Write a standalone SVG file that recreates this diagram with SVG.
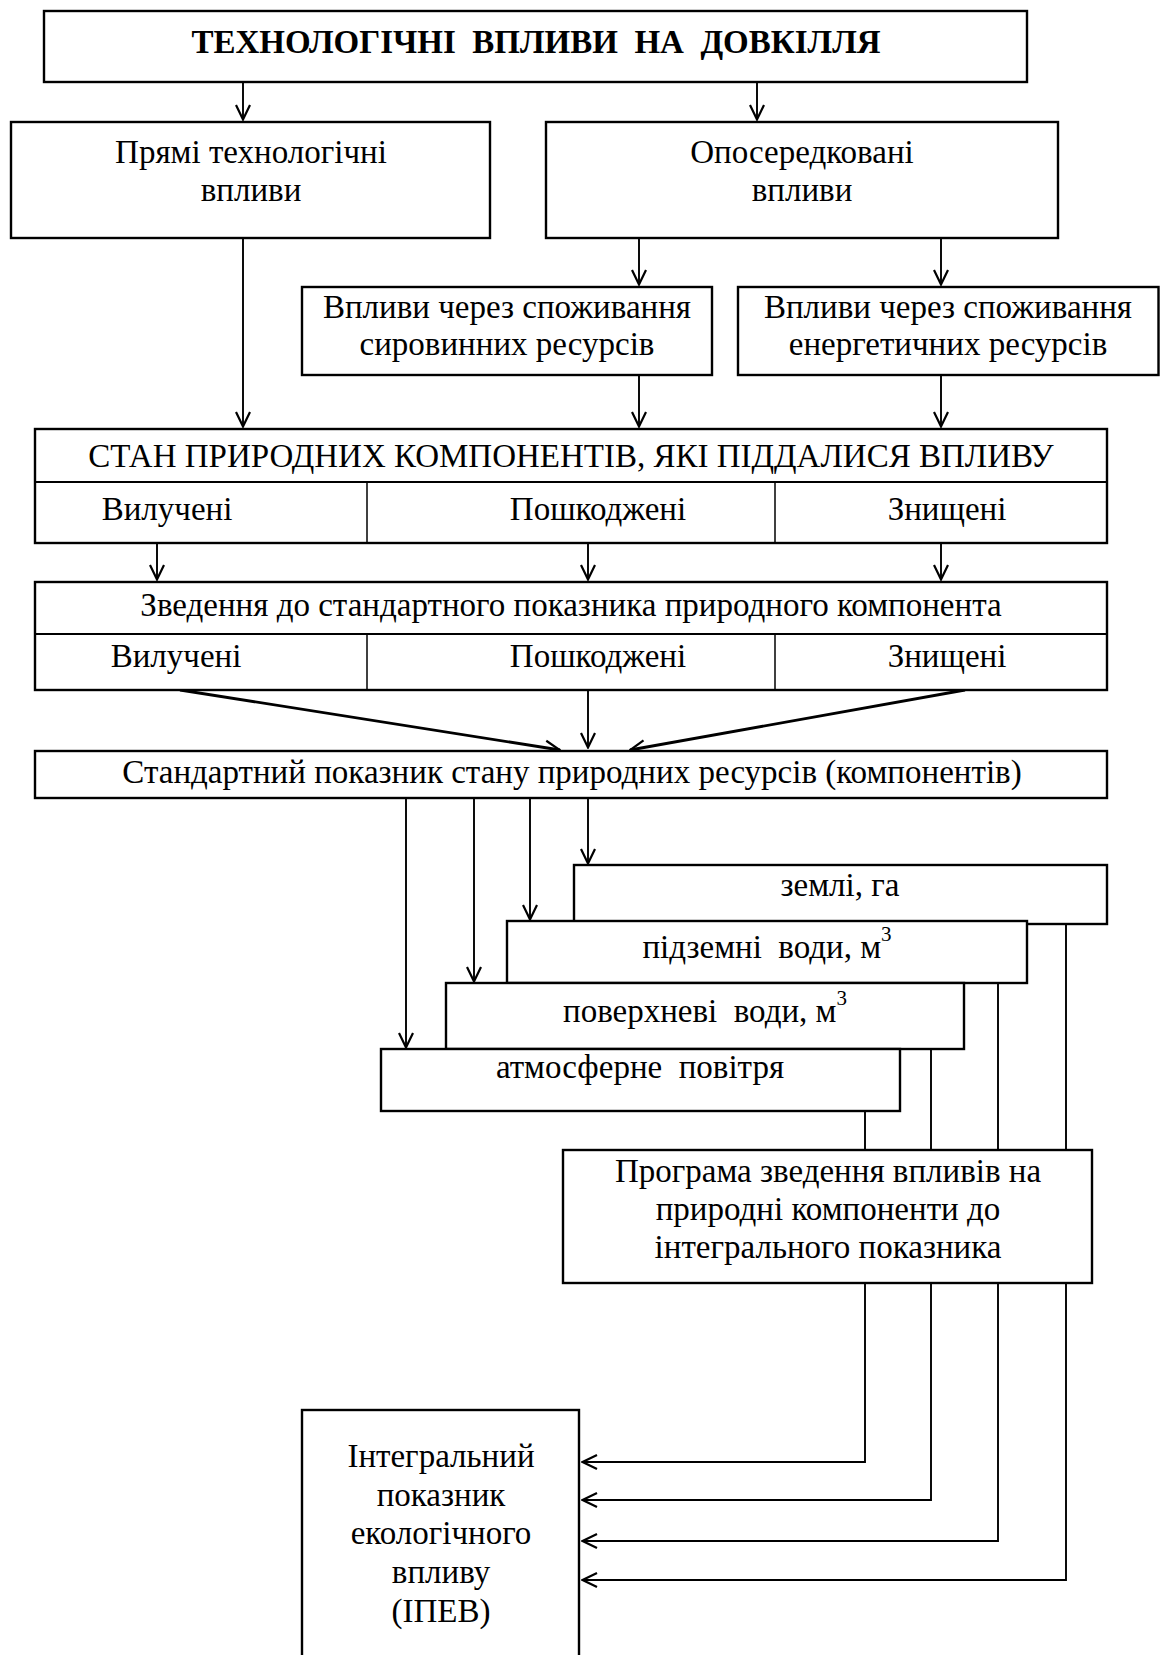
<svg xmlns="http://www.w3.org/2000/svg" width="1160" height="1655" viewBox="0 0 1160 1655">
<defs>
<marker id="ah" viewBox="0 0 17 17" refX="16" refY="8.5" markerWidth="17" markerHeight="17" markerUnits="userSpaceOnUse" orient="auto">
<path d="M1,1.5 L15.5,8.5 L1,15.5" fill="none" stroke="#000" stroke-width="2.2"/>
</marker>
</defs>
<style>
.b{fill:#fff;stroke:#000;stroke-width:2.4}
.d{stroke:#000;stroke-width:1.5;fill:none}
.c{stroke:#000;stroke-width:1.9;fill:none}
.cd{stroke:#000;stroke-width:2.8;fill:none}
.a{marker-end:url(#ah)}
text{font-family:"Liberation Serif","Times New Roman",serif;font-size:33px;fill:#000;text-anchor:middle}
.t{font-weight:bold;font-size:33px}
.p{white-space:pre}
</style>
<rect width="1160" height="1655" fill="#fff"/>

<g id="connectors">
<line class="c a" x1="243" y1="82" x2="243" y2="120"/>
<line class="c a" x1="757" y1="82" x2="757" y2="120"/>
<line class="c a" x1="243" y1="238" x2="243" y2="427"/>
<line class="c a" x1="639" y1="238" x2="639" y2="285"/>
<line class="c a" x1="941" y1="238" x2="941" y2="285"/>
<line class="c a" x1="639" y1="375" x2="639" y2="427"/>
<line class="c a" x1="941" y1="375" x2="941" y2="427"/>
<line class="c a" x1="157" y1="543" x2="157" y2="580"/>
<line class="c a" x1="588" y1="543" x2="588" y2="580"/>
<line class="c a" x1="941" y1="543" x2="941" y2="580"/>
<line class="cd a" x1="180" y1="690" x2="560" y2="750"/>
<line class="c a" x1="588" y1="690" x2="588" y2="748"/>
<line class="cd a" x1="965" y1="690" x2="630" y2="750"/>
<line class="c a" x1="406" y1="798" x2="406" y2="1048"/>
<line class="c a" x1="474" y1="798" x2="474" y2="982"/>
<line class="c a" x1="530" y1="798" x2="530" y2="920"/>
<line class="c a" x1="588" y1="798" x2="588" y2="864"/>
<polyline class="c a" points="865,1111 865,1462 582,1462"/>
<polyline class="c a" points="931,1049 931,1500 582,1500"/>
<polyline class="c a" points="998,983 998,1541 582,1541"/>
<polyline class="c a" points="1066,924 1066,1580 582,1580"/>
</g>

<g id="n-title">
<rect class="b" x="44" y="11" width="983" height="71"/>
<text class="t p" x="536" y="53">ТЕХНОЛОГІЧНІ  ВПЛИВИ  НА  ДОВКІЛЛЯ</text>
</g>

<g id="n-direct">
<rect class="b" x="11" y="122" width="479" height="116"/>
<text x="251" y="163">Прямі технологічні</text>
<text x="251" y="201">впливи</text>
</g>

<g id="n-indirect">
<rect class="b" x="546" y="122" width="512" height="116"/>
<text x="802" y="163">Опосередковані</text>
<text x="802" y="201">впливи</text>
</g>

<g id="n-raw">
<rect class="b" x="302" y="287" width="410" height="88"/>
<text x="507" y="318">Впливи через споживання</text>
<text x="507" y="355">сировинних ресурсів</text>
</g>

<g id="n-energy">
<rect class="b" x="738" y="287" width="420.5" height="88"/>
<text x="948" y="318">Впливи через споживання</text>
<text x="948" y="355">енергетичних ресурсів</text>
</g>

<g id="n-state">
<rect class="b" x="35" y="429" width="1072" height="114"/>
<line class="c" x1="35" y1="482" x2="1107" y2="482"/>
<line class="d" x1="367" y1="482" x2="367" y2="543"/>
<line class="d" x1="775" y1="482" x2="775" y2="543"/>
<text x="571" y="467">СТАН ПРИРОДНИХ КОМПОНЕНТІВ, ЯКІ ПІДДАЛИСЯ ВПЛИВУ</text>
<text x="167" y="520">Вилучені</text>
<text x="598" y="520">Пошкоджені</text>
<text x="947" y="520">Знищені</text>
</g>

<g id="n-reduce">
<rect class="b" x="35" y="582" width="1072" height="108"/>
<line class="c" x1="35" y1="634" x2="1107" y2="634"/>
<line class="d" x1="367" y1="634" x2="367" y2="690"/>
<line class="d" x1="775" y1="634" x2="775" y2="690"/>
<text x="571" y="616">Зведення до стандартного показника природного компонента</text>
<text x="176" y="667">Вилучені</text>
<text x="598" y="667">Пошкоджені</text>
<text x="947" y="667">Знищені</text>
</g>

<g id="n-standard">
<rect class="b" x="35" y="751" width="1072" height="47"/>
<text x="572" y="783">Стандартний показник стану природних ресурсів (компонентів)</text>
</g>

<g id="n-land">
<rect class="b" x="574" y="865" width="533" height="59"/>
<text x="840" y="896">землі, га</text>
</g>

<g id="n-ground">
<rect class="b" x="507" y="921" width="520" height="62"/>
<text class="p" x="767" y="958">підземні  води, м<tspan dy="-17" font-size="21">3</tspan></text>
</g>

<g id="n-surface">
<rect class="b" x="446" y="983" width="518" height="66"/>
<text class="p" x="705" y="1022">поверхневі  води, м<tspan dy="-17" font-size="21">3</tspan></text>
</g>

<g id="n-air">
<rect class="b" x="381" y="1049" width="519" height="62"/>
<text class="p" x="640" y="1078">атмосферне  повітря</text>
</g>

<g id="n-program">
<rect class="b" x="563" y="1150" width="529" height="133"/>
<text x="828" y="1182">Програма зведення впливів на</text>
<text x="828" y="1220">природні компоненти до</text>
<text x="828" y="1258">інтегрального показника</text>
</g>

<g id="n-ipev">
<rect class="b" x="302" y="1410" width="277" height="260"/>
<text x="441" y="1467">Інтегральний</text>
<text x="441" y="1506">показник</text>
<text x="441" y="1544">екологічного</text>
<text x="441" y="1583">впливу</text>
<text x="441" y="1622">(ІПЕВ)</text>
</g>
</svg>
